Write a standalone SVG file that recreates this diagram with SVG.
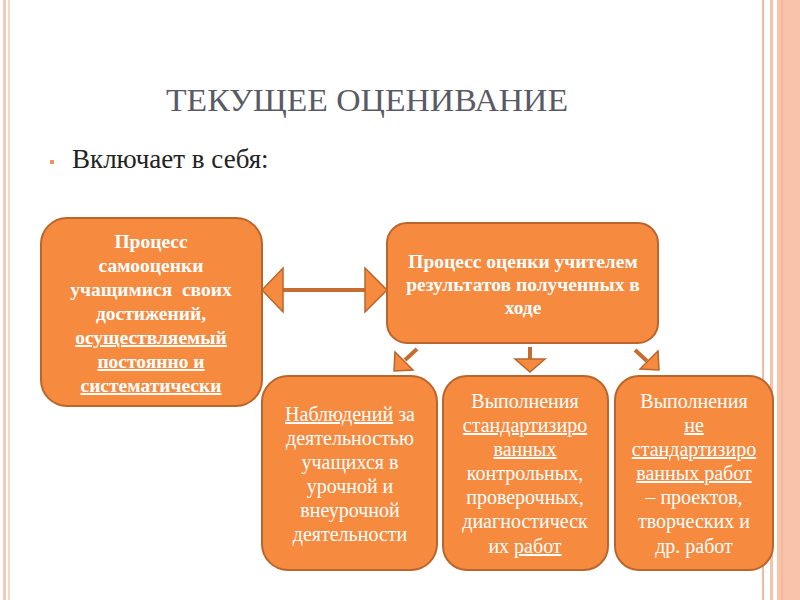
<svg xmlns="http://www.w3.org/2000/svg" width="800" height="600" viewBox="0 0 800 600">
<style>
text{font-family:"Liberation Serif","Times New Roman",Tinos,"DejaVu Serif",serif}
.box{fill:#f68a3f;stroke:#b9652c;stroke-width:2}
.arr{fill:#f68a3f;stroke:#b9652c;stroke-width:1.5;stroke-linejoin:miter}
.shaft{stroke:#c56d30;stroke-width:4;fill:none}
.b{font-weight:bold;font-size:19.5px;fill:#fff;text-anchor:middle}
.r{font-size:20px;fill:#fff;text-anchor:middle}
.u{text-decoration:underline}
</style>
<rect x="0" y="0" width="800" height="600" fill="#fff"/>
<g id="frame">
<rect x="3" y="0" width="3" height="600" fill="#f7c9b7"/>
<rect x="8" y="0" width="2" height="600" fill="#f9d5c6"/>
<rect x="762" y="0" width="2" height="600" fill="#f3bba5"/>
<rect x="770" y="0" width="3" height="600" fill="#f5c2ad"/>
<rect x="777" y="0" width="23" height="600" fill="#f9c3ab"/>
<rect x="781" y="0" width="2" height="600" fill="#f6b89d"/>
</g>
<g id="title">
<text x="367" y="111" font-size="32" fill="#5a5a66" text-anchor="middle" textLength="402" lengthAdjust="spacingAndGlyphs">ТЕКУЩЕЕ ОЦЕНИВАНИЕ</text>
</g>
<g id="bullet">
<rect x="50" y="160" width="4" height="4" fill="#e8955f"/>
<text x="72" y="168" font-size="27" fill="#222">Включает в себя:</text>
</g>
<g id="connectors">
<line class="shaft" x1="280" y1="290" x2="368" y2="290"/>
<polygon class="arr" points="262,290 283,268 283,312"/>
<polygon class="arr" points="387,290 365,268 365,312"/>
<line class="shaft" x1="417" y1="349" x2="405" y2="360"/>
<polygon class="arr" points="394,371 395,352 413,370"/>
<line class="shaft" x1="530" y1="347" x2="530" y2="361"/>
<polygon class="arr" points="515,359 545,359 530,372"/>
<line class="shaft" x1="635" y1="350" x2="647" y2="361"/>
<polygon class="arr" points="659,370 658,351 640,369"/>
</g>
<g id="node-self">
<rect class="box" x="41" y="218" width="221" height="188" rx="26"/>
<text class="b" x="151" y="248">Процесс</text>
<text class="b" x="151" y="272">самооценки</text>
<text class="b" x="151" y="296" xml:space="preserve">учащимися  своих</text>
<text class="b" x="151" y="320">достижений,</text>
<text class="b u" x="151" y="344">осуществляемый</text>
<text class="b u" x="151" y="368">постоянно и</text>
<text class="b u" x="151" y="392">систематически</text>
</g>
<g id="node-teacher">
<rect class="box" x="387" y="223" width="271" height="120" rx="20"/>
<text class="b" x="523" y="268">Процесс оценки учителем</text>
<text class="b" x="523" y="291">результатов полученных в</text>
<text class="b" x="523" y="314">ходе</text>
</g>
<g id="node-observe">
<rect class="box" x="262" y="376" width="175" height="194" rx="26"/>
<text class="r" x="350" y="421"><tspan class="u">Наблюдений</tspan> за</text>
<text class="r" x="350" y="445">деятельностью</text>
<text class="r" x="350" y="469">учащихся в</text>
<text class="r" x="350" y="493">урочной и</text>
<text class="r" x="350" y="517">внеурочной</text>
<text class="r" x="350" y="541">деятельности</text>
</g>
<g id="node-standard">
<rect class="box" x="443" y="376" width="165" height="194" rx="24"/>
<text class="r" x="525" y="408">Выполнения</text>
<text class="r u" x="525" y="432">стандартизиро</text>
<text class="r u" x="525" y="456">ванных</text>
<text class="r" x="525" y="480">контрольных,</text>
<text class="r" x="525" y="504">проверочных,</text>
<text class="r" x="525" y="528">диагностическ</text>
<text class="r" x="525" y="553">их <tspan class="u">работ</tspan></text>
</g>
<g id="node-nonstandard">
<rect class="box" x="615" y="376" width="158" height="194" rx="24"/>
<text class="r" x="694" y="408">Выполнения</text>
<text class="r u" x="694" y="432">не</text>
<text class="r u" x="694" y="456">стандартизиро</text>
<text class="r u" x="694" y="480">ванных работ</text>
<text class="r" x="694" y="504">– проектов,</text>
<text class="r" x="694" y="528">творческих и</text>
<text class="r" x="694" y="553">др. работ</text>
</g>
</svg>
